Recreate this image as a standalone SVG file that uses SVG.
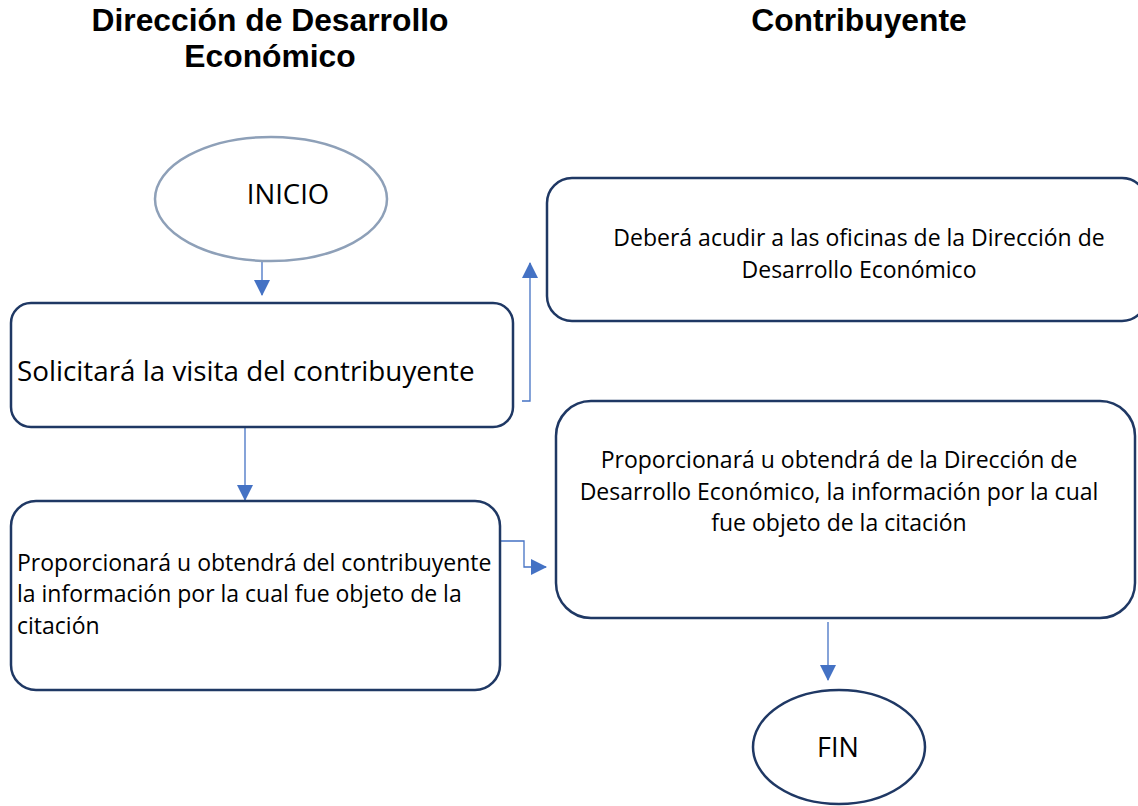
<svg xmlns="http://www.w3.org/2000/svg" width="1138" height="806" viewBox="0 0 1138 806">
<style>
.hd{font-family:"Liberation Sans",Arial,sans-serif;font-weight:bold;font-size:31.8px;fill:#000;text-anchor:middle}
.t{font-family:"Open Sans","Noto Sans",sans-serif;fill:#000}
.s{font-size:23px}
.box{fill:#fff;stroke:#1F3864;stroke-width:2.5}
.c{fill:none;stroke:#4472C4;stroke-width:1.3}
</style>
<defs>
<marker id="ah2" markerWidth="16" markerHeight="16" refX="15" refY="8" orient="auto" markerUnits="userSpaceOnUse" viewBox="0 0 16 16">
<path d="M0,0 L16,8 L0,16 Z" fill="#4472C4"/>
</marker>
</defs>
<g id="headers">
<text class="hd" x="270" y="31">Dirección de Desarrollo</text>
<text class="hd" x="270" y="67">Económico</text>
<text class="hd" x="859" y="31">Contribuyente</text>
</g>
<g id="connectors">
<path class="c" d="M262,262 V295" marker-end="url(#ah2)"/>
<path class="c" d="M522,401 H530 V263" marker-end="url(#ah2)"/>
<path class="c" d="M245,428 V500" marker-end="url(#ah2)"/>
<path class="c" d="M501,541 H524 V567 H546" marker-end="url(#ah2)"/>
<path class="c" d="M828,622 V680" marker-end="url(#ah2)"/>
</g>
<g id="inicio">
<ellipse cx="271" cy="199" rx="116" ry="62" fill="#fff" stroke="#8EA0B8" stroke-width="2.5"/>
<text class="t" x="288" y="204" font-size="27.5" text-anchor="middle">INICIO</text>
</g>
<g id="solicitara">
<rect class="box" x="11" y="303" width="502" height="124" rx="20"/>
<text class="t" x="17" y="381" font-size="27.8">Solicitará la visita del contribuyente</text>
</g>
<g id="debera">
<rect class="box" x="547" y="178" width="600" height="143" rx="25"/>
<text class="t s" x="859" y="246" text-anchor="middle">Deberá acudir a las oficinas de la Dirección de</text>
<text class="t s" x="859" y="278" text-anchor="middle">Desarrollo Económico</text>
</g>
<g id="proporcionara1">
<rect class="box" x="11" y="501" width="489" height="189" rx="25"/>
<text class="t s" x="17" y="571">Proporcionará u obtendrá del contribuyente</text>
<text class="t s" x="17" y="602">la información por la cual fue objeto de la</text>
<text class="t s" x="17" y="634">citación</text>
</g>
<g id="proporcionara2">
<rect class="box" x="556" y="401" width="579" height="217" rx="35"/>
<text class="t s" x="839" y="468" text-anchor="middle">Proporcionará u obtendrá de la Dirección de</text>
<text class="t s" x="839" y="500" text-anchor="middle">Desarrollo Económico, la información por la cual</text>
<text class="t s" x="839" y="531" text-anchor="middle">fue objeto de la citación</text>
</g>
<g id="fin">
<ellipse cx="839" cy="747" rx="86" ry="57" fill="#fff" stroke="#1F3864" stroke-width="2.5"/>
<text class="t" x="838" y="757" font-size="27" text-anchor="middle">FIN</text>
</g>
</svg>
